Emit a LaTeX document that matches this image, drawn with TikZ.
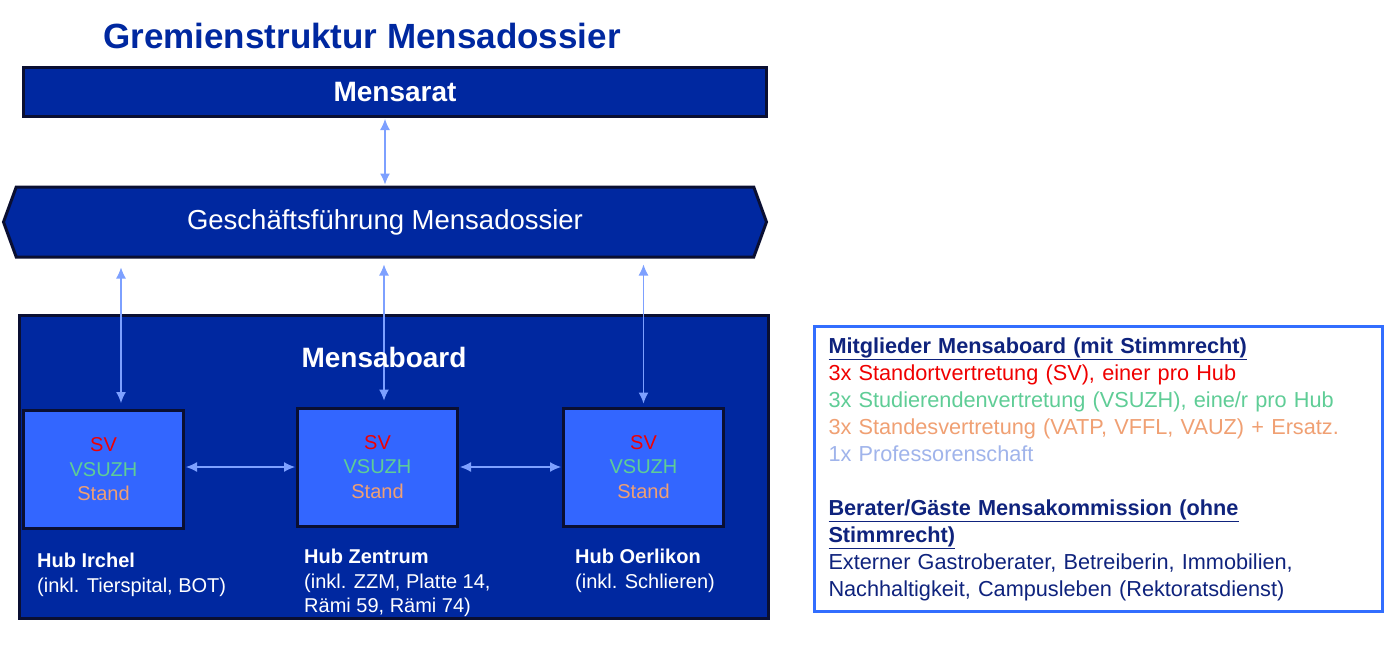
\documentclass[tikz,border=0pt]{standalone}
\usepackage{fontspec}
\setmainfont{Liberation Sans}
\usetikzlibrary{arrows.meta,positioning,shapes.symbols}
\definecolor{uzhblue}{RGB}{0,40,160}
\definecolor{hubblue}{RGB}{51,102,255}
\definecolor{edgenavy}{RGB}{10,15,50}
\definecolor{arrowblue}{RGB}{125,160,255}
\definecolor{svred}{RGB}{240,0,0}
\definecolor{vsgreen}{RGB}{95,205,150}
\definecolor{standorange}{RGB}{240,160,115}
\definecolor{profblue}{RGB}{160,180,235}
\definecolor{legendnavy}{RGB}{15,35,125}
\definecolor{legendframe}{RGB}{50,110,255}

\begin{document}
\begin{tikzpicture}[x=1pt,y=-1pt,
  darkbox/.style={draw=edgenavy, fill=uzhblue, line width=3pt, inner sep=0pt},
  hubbox/.style={draw=edgenavy, fill=hubblue, line width=3pt, minimum width=160pt, minimum height=118pt, align=center, font=\fontsize{20}{24.5}\selectfont},
  hublabel/.style={anchor=north west, align=left, text=white, inner sep=0pt, font=\fontsize{20}{24.5}\selectfont},
  link/.style={{Latex[length=11pt,width=10pt]}-{Latex[length=11pt,width=10pt]}, draw=arrowblue, line width=1.2pt, shorten <=1pt, shorten >=1pt}]
\useasboundingbox (0,0) rectangle (1390,656);

% title and upper committees
\node[text=uzhblue, font=\fontsize{35}{40}\selectfont\bfseries] (title) at (362,36) {Gremienstruktur Mensadossier};
\node[darkbox, minimum width=743pt, minimum height=49pt, text=white, font=\fontsize{28}{32}\selectfont\bfseries] (mensarat) at (395,92) {Mensarat};
\node[darkbox, shape=signal, signal to=west and east, signal pointer angle=140, minimum width=763pt, minimum height=70pt, text=white, font=\fontsize{27.5}{32}\selectfont] (gf) at (385,222) {Geschäftsführung Mensadossier};

% Mensaboard with the three hubs
\node[darkbox, minimum width=749pt, minimum height=303pt] (board) at (394,467) {};
\node[hubbox] (irchel) at (103.5,469.5) {\textcolor{svred}{SV}\\\textcolor{vsgreen}{VSUZH}\\\textcolor{standorange}{Stand}};
\node[hubbox] (zentrum) at (377.5,467) {\textcolor{svred}{SV}\\\textcolor{vsgreen}{VSUZH}\\\textcolor{standorange}{Stand}};
\node[hubbox] (oerlikon) at (643.5,467) {\textcolor{svred}{SV}\\\textcolor{vsgreen}{VSUZH}\\\textcolor{standorange}{Stand}};
\node[hublabel] (irchel label) at (37,553) {\textbf{Hub Irchel}\\(inkl. Tierspital, BOT)};
\node[hublabel] (zentrum label) at (304,549) {\textbf{Hub Zentrum}\\(inkl. ZZM, Platte 14,\\Rämi 59, Rämi 74)};
\node[hublabel] (oerlikon label) at (575,549) {\textbf{Hub Oerlikon}\\(inkl. Schlieren)};

% connectors
\coordinate (irchel in) at ([xshift=17.5pt]irchel.north);
\coordinate (zentrum in) at ([xshift=6.5pt]zentrum.north);
\coordinate (oerlikon in) at (oerlikon.north);
\draw[link] (gf.north |- mensarat.south) -- (gf.north);
\draw[link, shorten <=9pt, shorten >=6pt] (gf.south -| irchel in) -- (irchel in);
\draw[link, shorten <=6pt, shorten >=6pt] (gf.south -| zentrum in) -- (zentrum in);
\draw[link, shorten <=6pt, shorten >=3pt] (gf.south -| oerlikon in) -- (oerlikon in);
\draw[link] (irchel.east |- zentrum.west) -- (zentrum.west);
\draw[link] (zentrum) -- (oerlikon);
\node[text=white, font=\fontsize{28}{32}\selectfont\bfseries] (board title) at (384,357) {Mensaboard};

% legend
\node[draw=legendframe, line width=3pt, fill=white, minimum width=568pt, minimum height=285pt, text width=540pt, inner xsep=13pt, align=left, text=legendnavy, font=\fontsize{21.7}{27}\selectfont] (legend) at (1098.5,469) {%
\underline{\textbf{Mitglieder Mensaboard (mit Stimmrecht)}}\\
\textcolor{svred}{3x Standortvertretung (SV), einer pro Hub}\\
\textcolor{vsgreen}{3x Studierendenvertretung (VSUZH), eine/r pro Hub}\\
\textcolor{standorange}{3x Standesvertretung (VATP, VFFL, VAUZ) + Ersatz.}\\
\textcolor{profblue}{1x Professorenschaft}\\[27pt]
\underline{\textbf{Berater/Gäste Mensakommission (ohne}}\\
\underline{\textbf{Stimmrecht)}}\\
Externer Gastroberater, Betreiberin, Immobilien,\\
Nachhaltigkeit, Campusleben (Rektoratsdienst)};
\end{tikzpicture}
\end{document}
